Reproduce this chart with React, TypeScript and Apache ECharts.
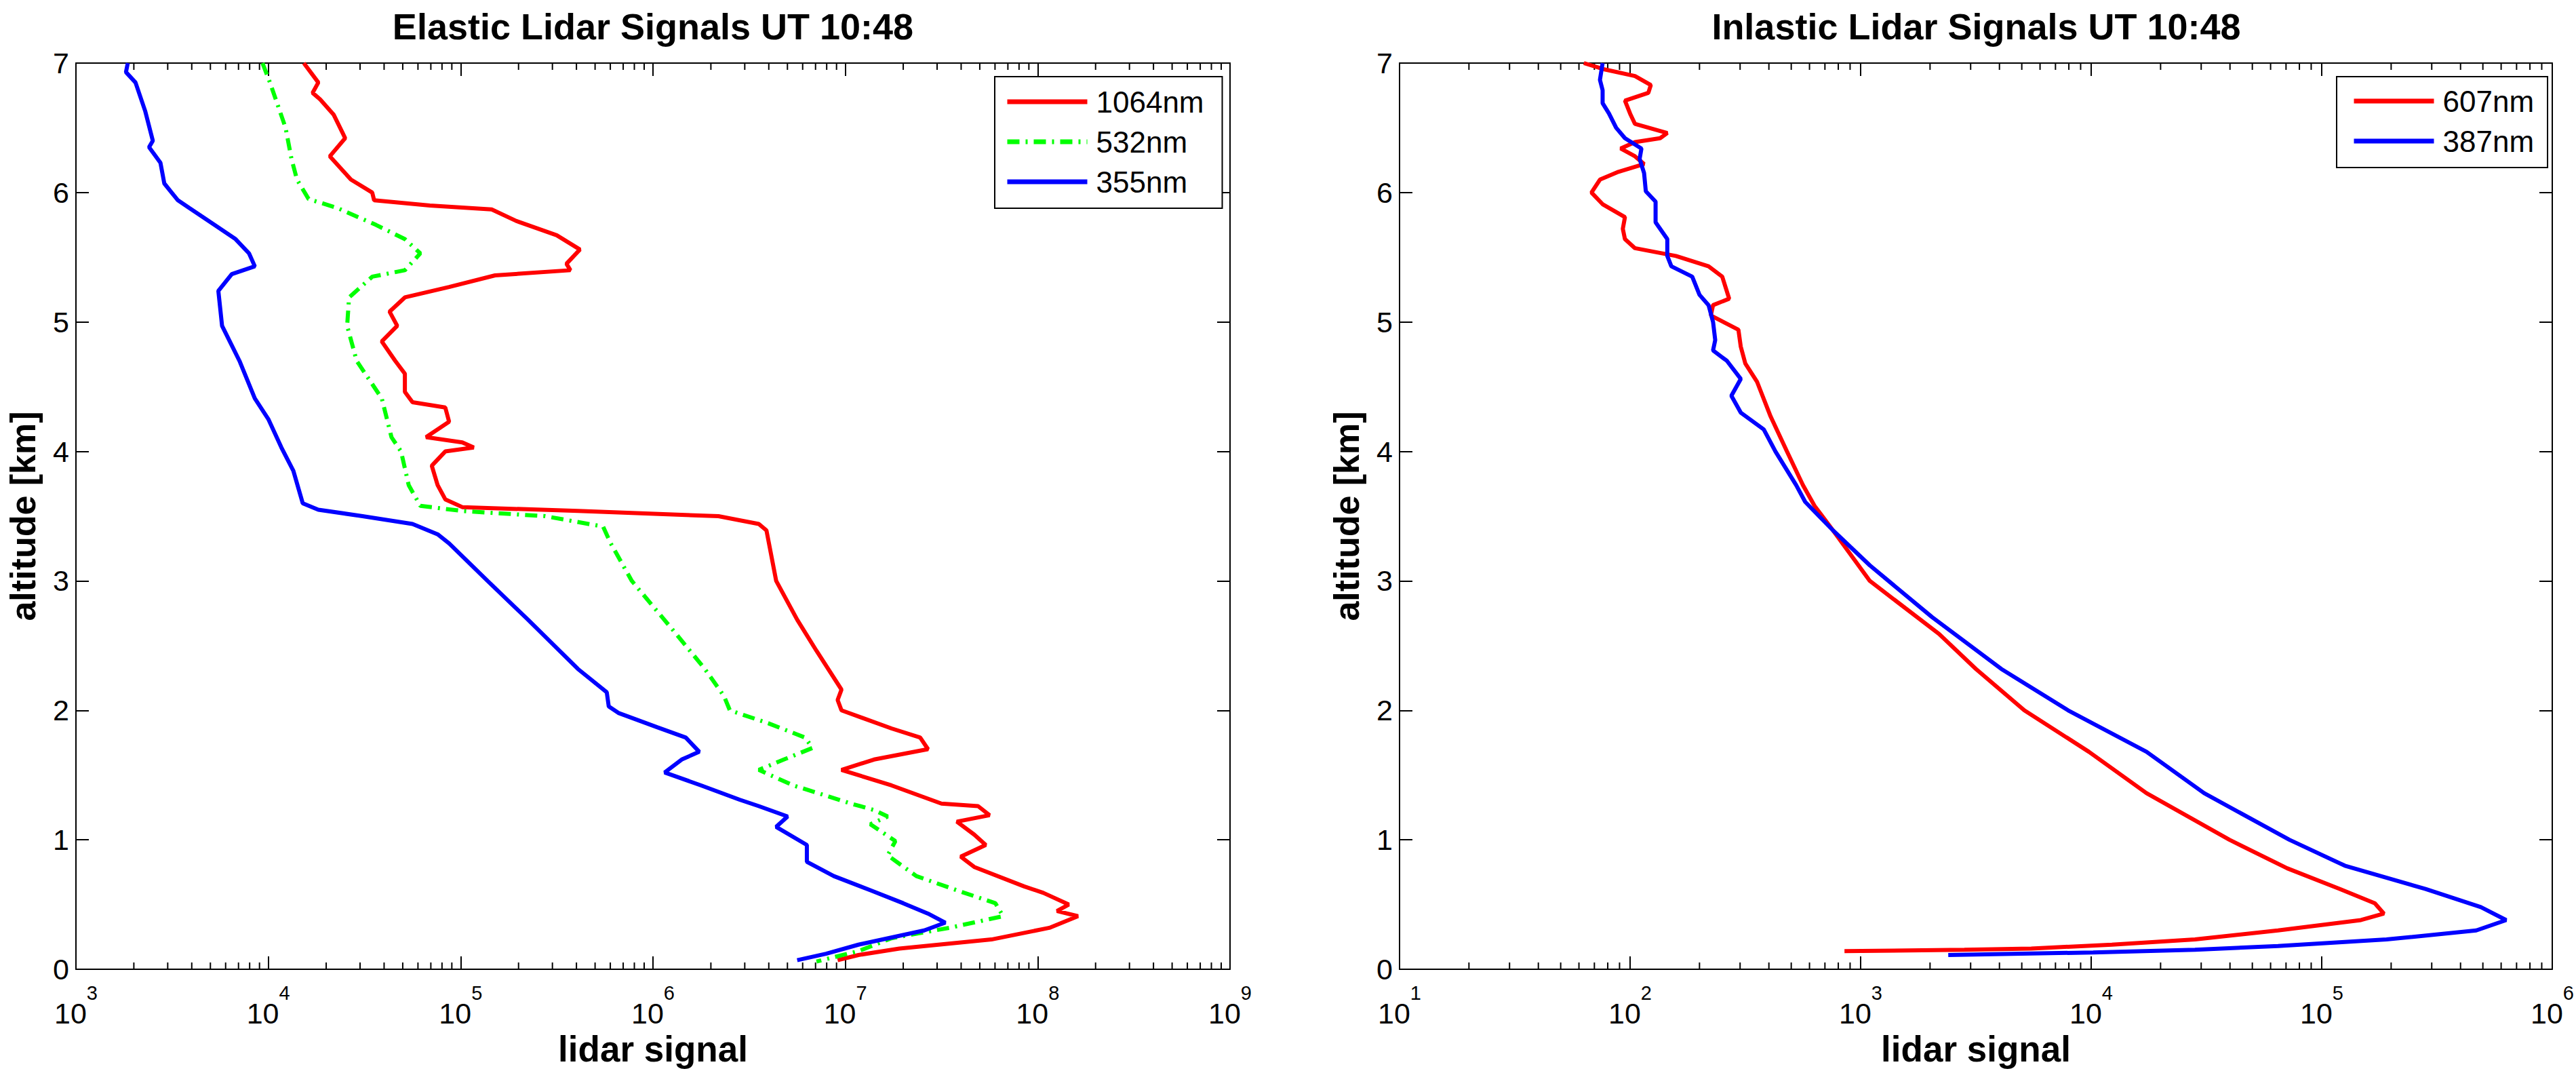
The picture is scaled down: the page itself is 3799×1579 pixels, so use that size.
import React, { useEffect, useRef } from "react";
import * as echarts from "echarts";

// ---------- Data (altitude in km, lidar signal in raw counts) ----------
const ALT_1064 = [7.0, 6.85, 6.77, 6.72, 6.6, 6.42, 6.28, 6.1, 6.0, 5.94, 5.9, 5.87, 5.78, 5.67, 5.56, 5.45, 5.4, 5.36, 5.27, 5.19, 5.08, 4.97, 4.85, 4.7, 4.6, 4.46, 4.38, 4.34, 4.23, 4.11, 4.07, 4.03, 4.0, 3.89, 3.74, 3.63, 3.57, 3.54, 3.5, 3.44, 3.39, 3.0, 2.7, 2.46, 2.16, 2.08, 2.0, 1.86, 1.79, 1.7, 1.62, 1.54, 1.42, 1.28, 1.26, 1.19, 1.14, 1.04, 0.96, 0.87, 0.79, 0.64, 0.59, 0.5, 0.45, 0.41, 0.32, 0.23, 0.16, 0.11, 0.07];
const SIG_1064 = [1.53e4, 1.82e4, 1.7e4, 1.86e4, 2.19e4, 2.51e4, 2.09e4, 2.69e4, 3.47e4, 3.55e4, 6.92e4, 1.45e5, 1.95e5, 3.16e5, 4.17e5, 3.55e5, 3.72e5, 1.51e5, 8.71e4, 5.13e4, 4.27e4, 4.68e4, 3.89e4, 4.57e4, 5.13e4, 5.13e4, 5.62e4, 8.32e4, 8.71e4, 6.61e4, 1.02e5, 1.17e5, 8.32e4, 7.08e4, 7.59e4, 8.32e4, 1.02e5, 4.07e5, 2.19e6, 3.55e6, 3.89e6, 4.37e6, 5.62e6, 7.08e6, 9.55e6, 9.12e6, 9.55e6, 1.74e7, 2.45e7, 2.69e7, 1.41e7, 9.55e6, 1.74e7, 3.16e7, 4.9e7, 5.62e7, 3.8e7, 4.68e7, 5.37e7, 3.98e7, 4.68e7, 8.51e7, 1.07e8, 1.45e8, 1.26e8, 1.62e8, 1.15e8, 5.75e7, 1.91e7, 1.17e7, 9.12e6];

const ALT_532 = [7.0, 6.85, 6.5, 6.26, 6.1, 5.95, 5.88, 5.75, 5.64, 5.53, 5.4, 5.35, 5.19, 4.97, 4.7, 4.41, 4.11, 4.0, 3.74, 3.58, 3.54, 3.5, 3.42, 3.29, 3.0, 2.59, 2.32, 2.11, 2.0, 1.9, 1.79, 1.71, 1.62, 1.54, 1.42, 1.28, 1.23, 1.18, 1.12, 0.99, 0.88, 0.72, 0.61, 0.51, 0.41, 0.32, 0.24, 0.14, 0.06];
const SIG_532 = [9.33e3, 1.02e4, 1.23e4, 1.32e4, 1.41e4, 1.62e4, 2.29e4, 3.63e4, 5.13e4, 6.17e4, 5.13e4, 3.47e4, 2.63e4, 2.57e4, 2.88e4, 3.89e4, 4.37e4, 4.9e4, 5.37e4, 6.17e4, 1.02e5, 2.75e5, 5.5e5, 6.03e5, 7.76e5, 1.32e6, 1.86e6, 2.34e6, 2.51e6, 3.98e6, 6.17e6, 6.76e6, 4.79e6, 3.55e6, 5.37e6, 1.07e7, 1.41e7, 1.66e7, 1.35e7, 1.82e7, 1.66e7, 2.34e7, 3.8e7, 6.03e7, 6.61e7, 3.47e7, 1.74e7, 1.17e7, 7.08e6];

const ALT_355 = [7.0, 6.93, 6.85, 6.63, 6.4, 6.35, 6.23, 6.07, 5.94, 5.88, 5.75, 5.64, 5.53, 5.43, 5.37, 5.24, 4.97, 4.7, 4.41, 4.25, 4.03, 3.85, 3.6, 3.55, 3.5, 3.44, 3.36, 3.29, 3.0, 2.7, 2.32, 2.14, 2.03, 1.98, 1.87, 1.79, 1.68, 1.62, 1.52, 1.42, 1.31, 1.26, 1.18, 1.1, 0.96, 0.83, 0.72, 0.61, 0.51, 0.43, 0.36, 0.3, 0.19, 0.12, 0.07];
const SIG_355 = [1.86e3, 1.82e3, 2.04e3, 2.29e3, 2.51e3, 2.4e3, 2.75e3, 2.88e3, 3.39e3, 3.89e3, 5.25e3, 6.76e3, 7.94e3, 8.51e3, 6.46e3, 5.5e3, 5.75e3, 7.08e3, 8.51e3, 1.0e4, 1.17e4, 1.35e4, 1.51e4, 1.82e4, 3.09e4, 5.62e4, 7.59e4, 8.71e4, 1.38e5, 2.24e5, 4.07e5, 5.75e5, 5.89e5, 6.61e5, 1.05e6, 1.48e6, 1.74e6, 1.41e6, 1.15e6, 1.78e6, 2.82e6, 3.55e6, 5.01e6, 4.37e6, 6.31e6, 6.31e6, 8.71e6, 1.35e7, 2.0e7, 2.69e7, 3.31e7, 2.57e7, 1.17e7, 7.94e6, 5.62e6];

const ALT_607 = [7.0, 6.95, 6.9, 6.83, 6.77, 6.71, 6.61, 6.53, 6.46, 6.42, 6.39, 6.34, 6.28, 6.22, 6.16, 6.1, 6.0, 5.91, 5.81, 5.72, 5.64, 5.57, 5.51, 5.43, 5.35, 5.18, 5.13, 5.05, 4.94, 4.81, 4.68, 4.54, 4.27, 4.0, 3.74, 3.58, 3.39, 3.0, 2.59, 2.32, 2.0, 1.68, 1.36, 1.0, 0.78, 0.62, 0.51, 0.43, 0.38, 0.3, 0.23, 0.19, 0.16, 0.15, 0.14];
const SIG_607 = [63, 78, 105, 123, 120, 95, 100, 105, 145, 135, 105, 91, 105, 115, 89, 74, 68, 76, 95, 93, 95, 105, 158, 219, 251, 269, 229, 224, 295, 302, 316, 355, 407, 479, 562, 631, 759, 1096, 2188, 3162, 5129, 9772, 17378, 39811, 70795, 1.2e5, 1.7e5, 1.86e5, 1.48e5, 6.46e4, 2.82e4, 1.23e4, 5495, 2818, 851];

const ALT_387 = [7.0, 6.87, 6.79, 6.69, 6.61, 6.5, 6.42, 6.34, 6.26, 6.15, 6.01, 5.93, 5.77, 5.64, 5.51, 5.43, 5.35, 5.21, 5.13, 5.0, 4.86, 4.78, 4.7, 4.56, 4.43, 4.3, 4.17, 4.0, 3.74, 3.61, 3.39, 3.12, 2.72, 2.32, 2.0, 1.68, 1.36, 1.0, 0.8, 0.62, 0.48, 0.38, 0.3, 0.23, 0.18, 0.15, 0.13, 0.11];
const SIG_387 = [76, 74, 76, 76, 81, 87, 95, 112, 110, 115, 117, 129, 129, 145, 145, 151, 186, 200, 219, 229, 234, 229, 263, 302, 275, 302, 380, 427, 525, 575, 759, 1096, 2042, 4074, 7943, 17378, 30903, 72444, 1.26e5, 2.82e5, 4.9e5, 6.31e5, 4.68e5, 1.91e5, 6.46e4, 2.82e4, 1.02e4, 2399];

const TITLES = ["Elastic Lidar Signals UT 10:48", "Inlastic Lidar Signals UT 10:48"];
const X_NAME = "lidar signal";
const Y_NAME = "altitude [km]";
const ELASTIC_X_RANGE = [1e3, 1e9];
const INELASTIC_X_RANGE = [1e1, 1e6];
const Y_RANGE = [0, 7];
const MINOR_MULTIPLIERS = [2, 3, 4, 5, 6, 7, 8, 9];

const pairs = (sig: number[], alt: number[]) => sig.map((s, i) => [s, alt[i]]);

const minorTicks = (range: number[]) => {
  const out: number[][] = [];
  for (let d = range[0]; d < range[1]; d *= 10) {
    MINOR_MULTIPLIERS.forEach((m) => out.push([d * m, 0]));
  }
  return out;
};

const FONT = "'Liberation Sans', Arial, Helvetica, sans-serif";
const GRIDS = [
  { left: 112, top: 93, width: 1702, height: 1336 },
  { left: 2064, top: 93, width: 1701, height: 1336 },
];

export default function App() {
  const ref = useRef<HTMLDivElement>(null);
  useEffect(() => {
    if (!ref.current) return;
    const chart = echarts.init(ref.current, null, { renderer: "svg" });

    const axisLine = { show: true, onZero: false, lineStyle: { color: "#000", width: 2 } };
    const tick = { show: true, inside: true, length: 19, lineStyle: { color: "#000", width: 2 } };

    const xAxisFor = (grid: number, range: number[]) => [
      {
        gridIndex: grid,
        type: "log",
        logBase: 10,
        min: range[0],
        max: range[1],
        position: "bottom",
        axisLine,
        axisTick: tick,
        splitLine: { show: false },
        axisLabel: {
          show: true,
          margin: 20,
          showMinLabel: true,
          showMaxLabel: true,
          formatter: (v: number) => `{b|10}{s|${Math.round(Math.log10(v))}}`,
          rich: {
            b: { fontFamily: FONT, fontSize: 43, color: "#000", lineHeight: 66, verticalAlign: "bottom" },
            s: { fontFamily: FONT, fontSize: 29, color: "#000", lineHeight: 29, verticalAlign: "top" },
          },
        },
        name: X_NAME,
        nameLocation: "middle",
        nameGap: 82,
        nameTextStyle: { fontFamily: FONT, fontWeight: "bold", fontSize: 53, color: "#000" },
      },
      {
        gridIndex: grid,
        type: "log",
        logBase: 10,
        min: range[0],
        max: range[1],
        position: "top",
        axisLine,
        axisTick: tick,
        splitLine: { show: false },
        axisLabel: { show: false },
      },
    ];

    const yAxisFor = (grid: number) => [
      {
        gridIndex: grid,
        type: "value",
        min: Y_RANGE[0],
        max: Y_RANGE[1],
        interval: 1,
        position: "left",
        axisLine,
        axisTick: tick,
        splitLine: { show: false },
        axisLabel: { show: true, margin: 10, fontFamily: FONT, fontSize: 43, color: "#000" },
        name: Y_NAME,
        nameLocation: "middle",
        nameGap: 52,
        nameTextStyle: { fontFamily: FONT, fontWeight: "bold", fontSize: 52, color: "#000" },
      },
      {
        gridIndex: grid,
        type: "value",
        min: Y_RANGE[0],
        max: Y_RANGE[1],
        interval: 1,
        position: "right",
        axisLine,
        axisTick: tick,
        splitLine: { show: false },
        axisLabel: { show: false },
      },
    ];

    const minorSeries = (xi: number, yi: number, range: number[]) => ({
      type: "custom",
      xAxisIndex: xi,
      yAxisIndex: yi,
      silent: true,
      z: 1,
      clip: false,
      data: minorTicks(range),
      renderItem: (_p: any, api: any) => {
        const v = api.value(0);
        const b = api.coord([v, Y_RANGE[0]]);
        const t = api.coord([v, Y_RANGE[1]]);
        const st = { stroke: "#000", lineWidth: 2 };
        return {
          type: "group",
          children: [
            { type: "line", shape: { x1: b[0], y1: b[1], x2: b[0], y2: b[1] - 10 }, style: st },
            { type: "line", shape: { x1: t[0], y1: t[1], x2: t[0], y2: t[1] + 10 }, style: st },
          ],
        };
      },
    });

    const lineSeries = (name: string, color: string, data: number[][], xi: number, yi: number, dash?: number[]) => ({
      type: "line",
      name,
      xAxisIndex: xi,
      yAxisIndex: yi,
      data,
      symbol: "none",
      showSymbol: false,
      z: 3,
      lineStyle: { color, width: 6, type: dash ? dash : "solid", cap: "butt" },
      itemStyle: { color },
    });

    const legendBase = {
      orient: "vertical",
      backgroundColor: "#fff",
      borderColor: "#000",
      borderWidth: 2,
      itemWidth: 118,
      itemHeight: 44,
      itemGap: 15,
      itemStyle: { opacity: 0, borderWidth: 0 },
      lineStyle: { width: 7 },
      textStyle: { fontFamily: FONT, fontSize: 44, color: "#000", padding: [0, 0, 0, 8], lineHeight: 44 },
    };

    chart.setOption({
      animation: false,
      backgroundColor: "#fff",
      grid: GRIDS,
      xAxis: [...xAxisFor(0, ELASTIC_X_RANGE), ...xAxisFor(1, INELASTIC_X_RANGE)],
      yAxis: [...yAxisFor(0), ...yAxisFor(1)],
      legend: [
        {
          ...legendBase,
          left: 1467,
          top: 113,
          padding: [15, 27, 17, 15],
          data: ["1064nm", "532nm", "355nm"],
        },
        {
          ...legendBase,
          left: 3446,
          top: 113,
          padding: [14, 20, 17, 22],
          data: ["607nm", "387nm"],
        },
      ],
      graphic: [
        {
          type: "text",
          x: GRIDS[0].left + GRIDS[0].width / 2,
          y: 12,
          style: { text: TITLES[0], fontFamily: FONT, fontWeight: "bold", fontSize: 54, fill: "#000", textAlign: "center", textVerticalAlign: "top" },
        },
        {
          type: "text",
          x: GRIDS[1].left + GRIDS[1].width / 2,
          y: 12,
          style: { text: TITLES[1], fontFamily: FONT, fontWeight: "bold", fontSize: 54, fill: "#000", textAlign: "center", textVerticalAlign: "top" },
        },
      ],
      series: [
        minorSeries(0, 0, ELASTIC_X_RANGE),
        minorSeries(2, 2, INELASTIC_X_RANGE),
        lineSeries("1064nm", "#ff0000", pairs(SIG_1064, ALT_1064), 0, 0),
        lineSeries("532nm", "#00ff00", pairs(SIG_532, ALT_532), 0, 0, [18, 9, 3, 9]),
        lineSeries("355nm", "#0000ff", pairs(SIG_355, ALT_355), 0, 0),
        lineSeries("607nm", "#ff0000", pairs(SIG_607, ALT_607), 2, 2),
        lineSeries("387nm", "#0000ff", pairs(SIG_387, ALT_387), 2, 2),
      ],
    });

    return () => chart.dispose();
  }, []);

  return (
    <div
      ref={ref}
      style={{ position: "fixed", left: 0, top: 0, width: 3799, height: 1579, background: "#fff" }}
    />
  );
}
